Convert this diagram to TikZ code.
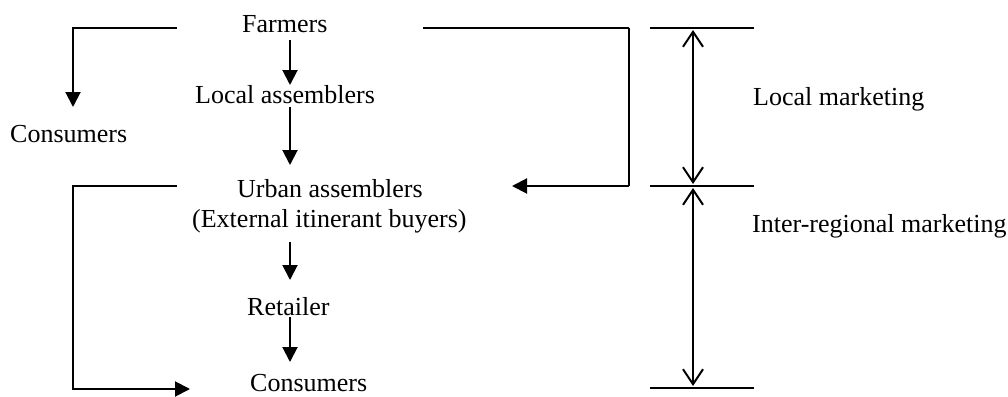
\documentclass[tikz,border=0pt]{standalone}
\usepackage{fontspec}
\setmainfont{Liberation Serif}
\usetikzlibrary{arrows.meta}
\begin{document}
\begin{tikzpicture}[x=1pt,y=-1pt,
  lbl/.style={anchor=base west,inner sep=0pt,font=\fontsize{26}{30}\selectfont},
  flow/.style={line width=2pt,-{Triangle[length=15pt,width=15pt]}},
  conn/.style={line width=2pt},
  thin/.style={line width=1.2pt},
  span/.style={line width=2pt,{Straight Barb[length=15pt,width=20pt]}-{Straight Barb[length=15pt,width=20pt]}},
  tick/.style={line width=2pt}]
\useasboundingbox (0,0) rectangle (1008,396);
% nodes
\node[lbl] (farm) at (242,33) {Farmers};
\node[lbl] (loc) at (195,103) {Local assemblers};
\node[lbl] (urb) at (237,197) {Urban assemblers};
\node[lbl] (ext) at (192,227) {(External itinerant buyers)};
\node[lbl] (ret) at (247,315) {Retailer};
\node[lbl] (consB) at (250,391) {Consumers};
\node[lbl] (consL) at (10,142) {Consumers};
\node[lbl] (lm) at (753,105) {Local marketing};
\node[lbl] (irm) at (752,232) {Inter-regional marketing};
% helper coordinates
\coordinate (fL) at (177,28);
\coordinate (fR) at (423,28);
\coordinate (uL) at (177,186);
\coordinate (uR) at (512,186);
\coordinate (cT) at (73,107);
\coordinate (cB) at (190,389);
\coordinate (r1a) at (650,28);
\coordinate (r1b) at (754,28);
\coordinate (r2a) at (650,186);
\coordinate (r2b) at (754,186);
\coordinate (r3a) at (650,388);
\coordinate (r3b) at (754,388);
\coordinate (v1) at (693,28);
\coordinate (v2) at (693,186);
\coordinate (v3) at (693,388);
% main chain
\draw[flow] ([xshift=48pt,yshift=-7pt]farm.base west) -- ([xshift=95pt,yshift=18pt]loc.base west);
\draw[flow] ([xshift=95pt,yshift=-4pt]loc.base west) -- ([xshift=53pt,yshift=32pt]urb.base west);
\draw[flow] ([xshift=98pt,yshift=-15pt]ext.base west) -- ([xshift=43pt,yshift=35pt]ret.base west);
\draw[flow] ([xshift=43pt,yshift=-2pt]ret.base west) -- ([xshift=40pt,yshift=29pt]consB.base west);
% side connectors
\draw[flow] (fL) -| (cT);
\draw[flow] (uL) -- (73,186) |- (cB);
\draw[conn] (fR) -- (629,28);
\draw[thin] (629,28) -- (629,186);
\draw[flow] (629,186) -- (uR);
% ruler
\draw[tick] (r1a) -- (r1b);
\draw[tick] (r2a) -- (r2b);
\draw[tick] (r3a) -- (r3b);
\draw[span] ([yshift=-2pt]v1) -- ([yshift=2pt]v2);
\draw[span] ([yshift=-2pt]v2) -- ([yshift=2pt]v3);
\end{tikzpicture}
\end{document}
